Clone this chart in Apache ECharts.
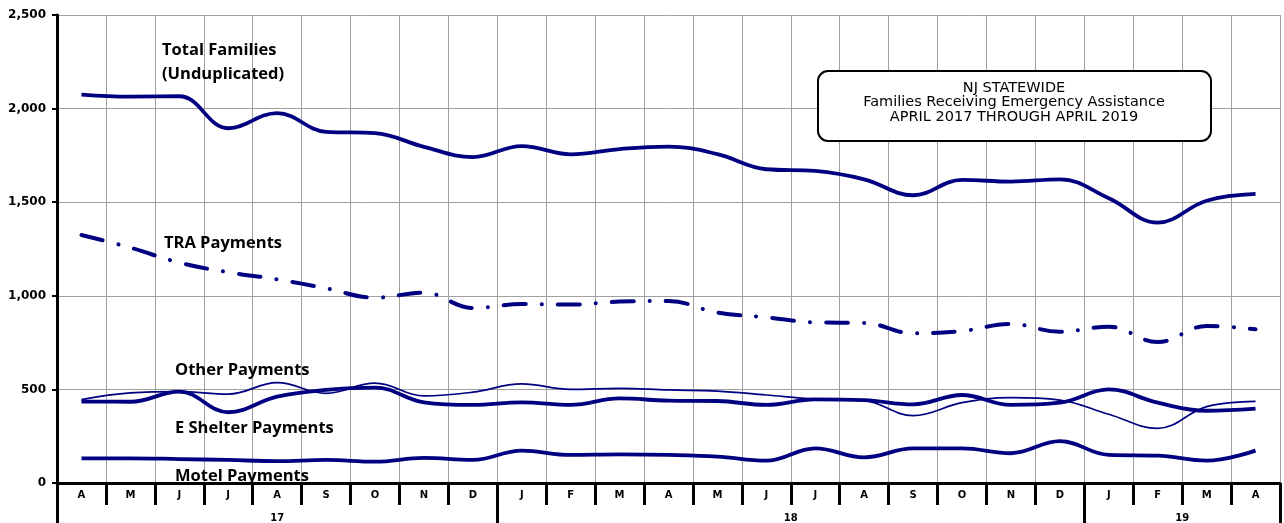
<!DOCTYPE html>
<html>
<head>
<meta charset="utf-8">
<script src="https://cdn.jsdelivr.net/npm/echarts@6/dist/echarts.min.js"></script>
<style>
html,body{margin:0;padding:0;background:#fff;}
#chart{width:1284px;height:523px;}
</style>
</head>
<body>
<div id="chart"></div>
<script>
// ---- data ----
var months = ['A','M','J','J','A','S','O','N','D','J','F','M','A','M','J','J','A','S','O','N','D','J','F','M','A'];
var yearGroups = [['17', 9], ['18', 12], ['19', 4]];
var yTicks = [0, 500, 1000, 1500, 2000, 2500];

var totalFamilies = [2075, 2064, 2066, 1895, 1976, 1876, 1869, 1796, 1741, 1800, 1756, 1784, 1797, 1757, 1676, 1667, 1622, 1537, 1619, 1610, 1622, 1521, 1391, 1508, 1544];
var traPayments   = [1325, 1257, 1177, 1126, 1088, 1040, 990, 1017, 935, 956, 953, 969, 972, 910, 885, 858, 855, 800, 812, 849, 808, 835, 753, 839, 821];
var otherPayments = [445, 481, 488, 475, 536, 479, 533, 465, 485, 529, 500, 506, 497, 491, 470, 449, 440, 360, 429, 456, 443, 367, 292, 408, 436];
var eShelter      = [435, 434, 488, 378, 461, 497, 510, 431, 417, 431, 417, 452, 440, 438, 417, 447, 443, 420, 470, 417, 429, 500, 429, 386, 397];
var motel         = [132, 132, 128, 123, 117, 123, 114, 134, 123, 173, 150, 153, 150, 141, 119, 185, 137, 185, 185, 159, 224, 150, 146, 119, 173];

// ---- build year axis (half-month points) ----
var yearAxisData = [];
var dividerIdx = [0];
var labelIdx = {};
var pos = 0;
for (var n = 0; n <= months.length * 2; n++) yearAxisData.push('');
yearGroups.forEach(function (g) {
  var center = pos * 2 + g[1];
  yearAxisData[center] = g[0];
  labelIdx[center] = true;
  pos += g[1];
  dividerIdx.push(pos * 2);
});

var navy = '#000080';
var chart = echarts.init(document.getElementById('chart'));
chart.setOption({
  animation: false,
  backgroundColor: '#fff',
  grid: { left: 57, right: 4, top: 15, bottom: 40, containLabel: false },
  xAxis: [{
    type: 'category',
    data: months,
    boundaryGap: true,
    position: 'bottom',
    axisLine: { show: true, lineStyle: { color: '#000', width: 3 } },
    axisTick: { show: true, length: 22, lineStyle: { color: '#000', width: 3 } },
    axisLabel: { interval: 0, margin: 7, fontFamily: 'DejaVu Sans', fontWeight: 'bold', fontSize: 10, color: '#000' },
    splitLine: { show: true, interval: 0, lineStyle: { color: '#a0a0a0', width: 1 } }
  }, {
    type: 'category',
    data: yearAxisData,
    boundaryGap: false,
    position: 'bottom',
    axisLine: { show: false },
    axisTick: { show: true, length: 40, interval: function (i) { return dividerIdx.indexOf(i) >= 0; }, lineStyle: { color: '#000', width: 3 } },
    axisLabel: { interval: function (i) { return !!labelIdx[i]; }, margin: 30, fontFamily: 'DejaVu Sans', fontWeight: 'bold', fontSize: 10, color: '#000' },
    splitLine: { show: false }
  }],
  yAxis: {
    type: 'value',
    min: 0, max: 2500, interval: 500,
    axisLine: { show: true, lineStyle: { color: '#000', width: 3 } },
    axisTick: { show: true, length: 5, lineStyle: { color: '#000', width: 2 } },
    axisLabel: {
      margin: 11, fontFamily: 'DejaVu Sans', fontWeight: 'bold', fontSize: 12, color: '#000',
      formatter: function (v) { return v.toLocaleString('en-US'); }
    },
    splitLine: { show: true, lineStyle: { color: '#a0a0a0', width: 1 } }
  },
  series: [
    { name: 'Total Families', type: 'line', data: totalFamilies, smooth: 0.4, symbol: 'none', lineStyle: { color: navy, width: 3.8 } },
    { name: 'TRA Payments', type: 'line', data: traPayments, smooth: 0.4, symbol: 'none', lineStyle: { color: navy, width: 4, type: [22, 16, 0.1, 16], cap: 'round' } },
    { name: 'Other Payments', type: 'line', data: otherPayments, smooth: 0.4, symbol: 'none', lineStyle: { color: navy, width: 1.7 } },
    { name: 'E Shelter Payments', type: 'line', data: eShelter, smooth: 0.4, symbol: 'none', lineStyle: { color: navy, width: 3.8 } },
    { name: 'Motel Payments', type: 'line', data: motel, smooth: 0.4, symbol: 'none', lineStyle: { color: navy, width: 3.8 } }
  ],
  graphic: [
    { type: 'text', x: 162, y: 50, z: 10, style: { text: 'Total Families', font: 'bold 16.5px "Open Sans"', fill: '#000', verticalAlign: 'middle' } },
    { type: 'text', x: 162, y: 74, z: 10, style: { text: '(Unduplicated)', font: 'bold 16.5px "Open Sans"', fill: '#000', verticalAlign: 'middle' } },
    { type: 'text', x: 164, y: 243, z: 10, style: { text: 'TRA Payments', font: 'bold 16.5px "Open Sans"', fill: '#000', verticalAlign: 'middle' } },
    { type: 'text', x: 175, y: 370, z: 10, style: { text: 'Other Payments', font: 'bold 16.5px "Open Sans"', fill: '#000', verticalAlign: 'middle' } },
    { type: 'text', x: 175, y: 428, z: 10, style: { text: 'E Shelter Payments', font: 'bold 16.5px "Open Sans"', fill: '#000', verticalAlign: 'middle' } },
    { type: 'text', x: 175, y: 476, z: 1, style: { text: 'Motel Payments', font: 'bold 16.5px "Open Sans"', fill: '#000', verticalAlign: 'middle' } },
    { type: 'rect', shape: { x: 818, y: 71, width: 393, height: 70, r: 10 }, z: 10, style: { fill: '#fff', stroke: '#000', lineWidth: 2 } },
    { type: 'text', x: 1014, y: 88, z: 11, style: { text: 'NJ STATEWIDE', font: '14.5px "DejaVu Sans"', fill: '#000', align: 'center', verticalAlign: 'middle' } },
    { type: 'text', x: 1014, y: 102.5, z: 11, style: { text: 'Families Receiving Emergency Assistance', font: '14.5px "DejaVu Sans"', fill: '#000', align: 'center', verticalAlign: 'middle' } },
    { type: 'text', x: 1014, y: 117, z: 11, style: { text: 'APRIL 2017 THROUGH APRIL 2019', font: '14.5px "DejaVu Sans"', fill: '#000', align: 'center', verticalAlign: 'middle' } }
  ]
});
</script>
</body>
</html>
